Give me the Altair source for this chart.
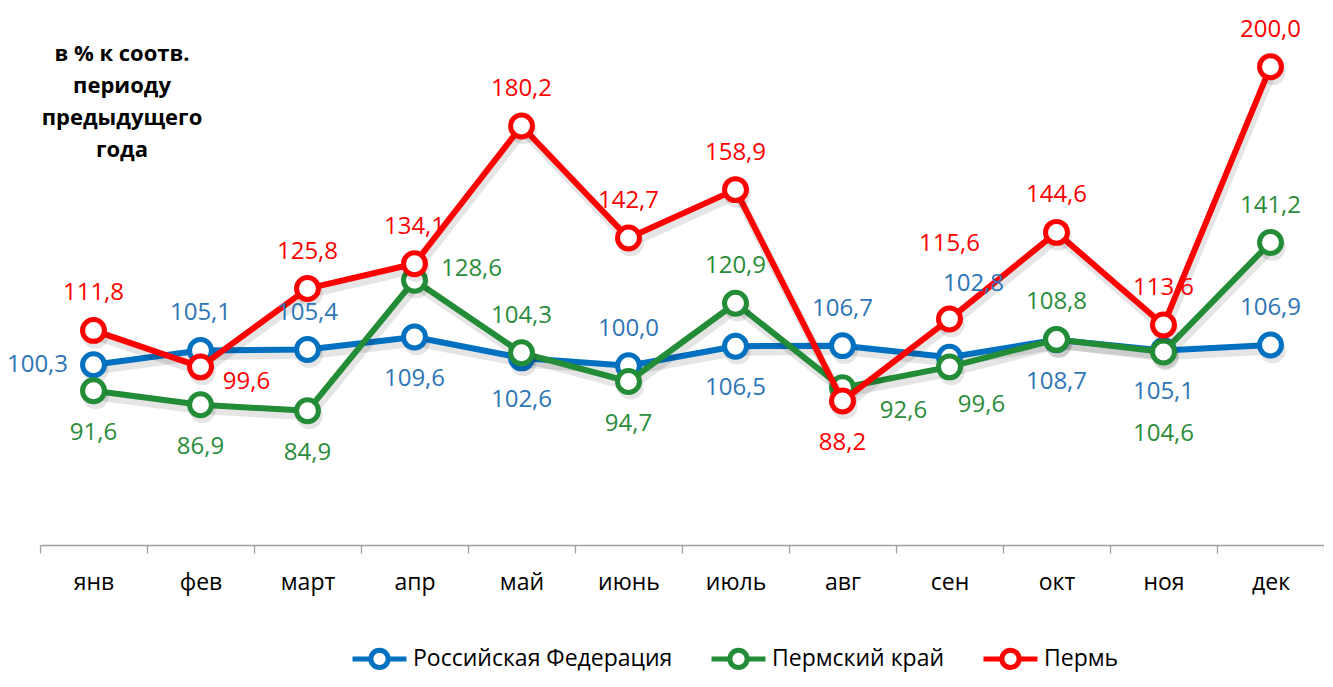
import altair as alt
import pandas as pd

MONTHS = ["янв", "фев", "март", "апр", "май", "июнь", "июль", "авг", "сен", "окт", "ноя", "дек"]
SERIES = ["Российская Федерация", "Пермский край", "Пермь"]
RF = [100.3, 105.1, 105.4, 109.6, 102.6, 100.0, 106.5, 106.7, 102.8, 108.7, 105.1, 106.9]
PK = [91.6, 86.9, 84.9, 128.6, 104.3, 94.7, 120.9, 92.6, 99.6, 108.8, 104.6, 141.2]
PERM = [111.8, 99.6, 125.8, 134.1, 180.2, 142.7, 158.9, 88.2, 115.6, 144.6, 113.6, 200.0]
TITLE_LINES = ["в % к соотв.", "периоду", "предыдущего", "года"]

# label placement codes (style)
RF_POS = ["l", "t", "t", "b", "b", "t", "b", "t", "ttr", "b", "b", "t"]
PK_POS = ["b", "b", "b", "r", "t", "b", "t", "rb", "br2", "t", "bb", "t"]
PERM_POS = ["t", "br", "t", "t", "t", "t", "t", "b", "tt", "t", "t", "t"]
OFFSETS = {"t": (0, -37), "b": (0, 42), "l": (-56, 0), "tt": (0, -75), "ttr": (24, -73),
           "bb": (0, 82), "r": (57, -11), "br": (46, 15), "rb": (61, 23), "br2": (32, 38)}

LINE_COLORS = ["#0070C0", "#238C37", "#FF0000"]
LABEL_COLORS = ["#2E75B6", "#2A8C3A", "#FF0000"]
FONT = "Open Sans"

rows = []
for s, vals, pos in zip(SERIES, [RF, PK, PERM], [RF_POS, PK_POS, PERM_POS]):
    for m, v, p in zip(MONTHS, vals, pos):
        rows.append(dict(month=m, series=s, value=v, pos=p,
                         label=f"{v:.1f}".replace(".", ",")))
df = pd.DataFrame(rows)

x = alt.X("month:N", sort=MONTHS,
          scale=alt.Scale(type="band", paddingInner=0, paddingOuter=0),
          bandPosition=0.5,
          axis=alt.Axis(title=None, labelAngle=0, tickBand="extent",
                        domainColor="#a0a0a0", tickColor="#a0a0a0", tickSize=8,
                        domainWidth=1.3, tickWidth=1.3, labelFont=FONT,
                        labelFontSize=23, labelColor="#000000", labelPadding=18,
                        grid=False))
y = alt.Y("value:Q", scale=alt.Scale(domain=[40, 218], zero=False, nice=False), axis=None)

LEGEND_PATH = "M-1,0H-0.32M0.32,0H1M-0.32,0A0.32,0.32 0 1,1 0.32,0A0.32,0.32 0 1,1 -0.32,0Z"

legend = alt.Legend(title=None, orient="none", legendX=310, legendY=616,
                    direction="horizontal", symbolType=LEGEND_PATH, symbolSize=2916,
                    symbolStrokeWidth=5, symbolFillColor="white", labelFont=FONT,
                    labelFontSize=23, labelColor="#000000", columnPadding=28,
                    labelOffset=4, padding=0, labelLimit=0)

base = alt.Chart(df)
layers = []
for s, lc in zip(SERIES, LINE_COLORS):
    f = alt.datum.series == s
    layers.append(base.mark_line(stroke="#000000", strokeOpacity=0.10, strokeWidth=9,
                                 xOffset=2, yOffset=5, strokeJoin="round")
                  .encode(x=x, y=y).transform_filter(f))
    layers.append(base.mark_line(strokeWidth=6, strokeJoin="round", strokeCap="round")
                  .encode(x=x, y=y,
                          stroke=alt.Stroke("series:N",
                                            scale=alt.Scale(domain=SERIES, range=LINE_COLORS),
                                            legend=legend))
                  .transform_filter(f))
    layers.append(base.mark_point(shape="circle", filled=True, fill="#000000", opacity=0.10,
                                  size=700, xOffset=2, yOffset=5, strokeWidth=0)
                  .encode(x=x, y=y).transform_filter(f))
    layers.append(base.mark_point(shape="circle", filled=True, fill="white", stroke=lc,
                                  strokeWidth=5, size=480, opacity=1)
                  .encode(x=x, y=y).transform_filter(f))

for s, lab_c, pos in zip(SERIES, LABEL_COLORS, [RF_POS, PK_POS, PERM_POS]):
    for p in sorted(set(pos)):
        dx, dy = OFFSETS[p]
        layers.append(base.mark_text(font=FONT, fontSize=24, color=lab_c, dx=dx, dy=dy,
                                     align="center", baseline="middle")
                      .encode(x=x, y=y, text="label:N")
                      .transform_filter((alt.datum.series == s) & (alt.datum.pos == p)))

title_df = pd.DataFrame({"t": ["\n".join(TITLE_LINES)]})
layers.append(alt.Chart(title_df).mark_text(font=FONT, fontSize=22, fontWeight="bold",
                                            lineBreak="\n", lineHeight=32, align="center",
                                            baseline="top", color="#000000")
              .encode(text="t:N", x=alt.value(82), y=alt.value(31)))

chart = alt.layer(*layers).properties(
    width=1284, height=532,
    autosize=alt.AutoSizeParams(type="none"),
    padding={"left": 32, "top": 5, "right": 0, "bottom": 129},
).configure_view(stroke=None)

chart.save("out.html", embed_options={"renderer": "svg", "actions": False})
